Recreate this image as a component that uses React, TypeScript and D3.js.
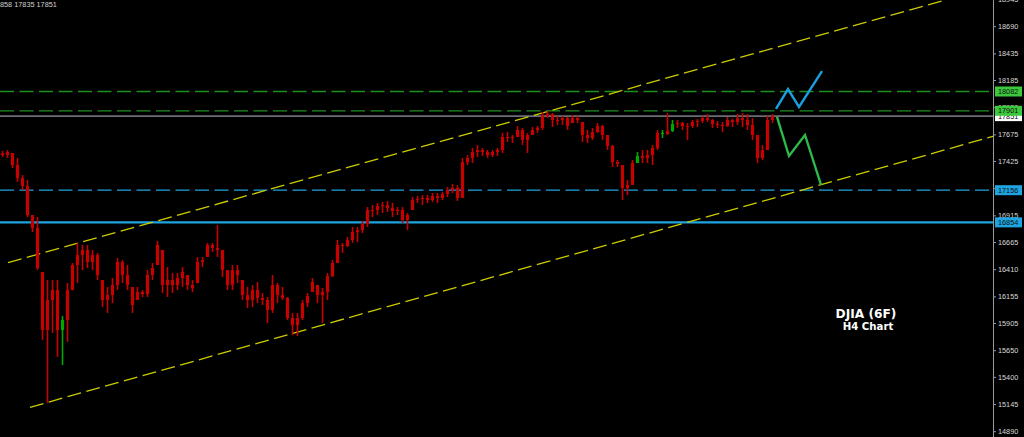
import React from "react";
import * as d3 from "d3";

// ---- price axis ticks ----
const tickValues = [18945, 18690, 18435, 18185, 17930, 17675, 17425, 17170, 16915, 16665, 16410, 16155, 15905, 15650, 15400, 15145, 14890];

// ---- H4 bars (high / low / close), open = previous close ----
const firstOpen = 17500;
const highs = [
  17524, 17533, 17505, 17458, 17298, 17251, 16923, 16904, 16388, 16313,
  16313, 16313, 15975, 16285, 16473, 16661, 16642, 16642, 16595, 16567,
  16313, 16248, 16332, 16520, 16501, 16454, 16248, 16248, 16219, 16407,
  16473, 16679, 16595, 16435, 16379, 16379, 16435, 16360, 16313, 16529,
  16529, 16661, 16661, 16829, 16595, 16407, 16454, 16454, 16313, 16248,
  16266, 16295, 16191, 16154, 16360, 16285, 16248, 16154, 16004, 16004,
  16126, 16191, 16332, 16266, 16238, 16379, 16501, 16689, 16661, 16717,
  16811, 16811, 16867, 16998, 17017, 17036, 17045, 17055, 17036, 16998,
  16998, 16942, 17092, 17102, 17111, 17111, 17130, 17130, 17139, 17186,
  17214, 17205, 17458, 17486, 17552, 17580, 17552, 17533, 17533, 17552,
  17693, 17702, 17674, 17758, 17740, 17693, 17749, 17758, 17890, 17899,
  17880, 17852, 17852, 17843, 17861, 17852, 17796, 17721, 17740, 17786,
  17768, 17674, 17580, 17439, 17392, 17251, 17439, 17514, 17533, 17533,
  17580, 17721, 17721, 17880, 17815, 17815, 17796, 17786, 17815, 17824,
  17852, 17871, 17824, 17805, 17796, 17843, 17824, 17871, 17880, 17871,
  17833, 17674, 17580, 17852, 17871,
];
const lows = [
  17467, 17458, 17364, 17233, 17158, 16904, 16764, 16407, 15750, 15159,
  15816, 15591, 15516, 15732, 16219, 16285, 16407, 16426, 16407, 16313,
  16060, 16004, 16097, 16219, 16285, 16219, 16004, 16126, 16154, 16154,
  16313, 16454, 16191, 16154, 16191, 16219, 16248, 16219, 16201, 16285,
  16435, 16529, 16576, 16529, 16341, 16219, 16219, 16285, 16126, 16050,
  16060, 16097, 16079, 15910, 16004, 16097, 16126, 15938, 15797, 15788,
  15938, 16060, 16201, 16097, 15910, 16126, 16341, 16473, 16567, 16623,
  16661, 16670, 16754, 16811, 16904, 16923, 16942, 16951, 16904, 16923,
  16848, 16782, 16970, 17036, 17017, 17036, 17045, 17036, 17064, 17092,
  17130, 17055, 17083, 17392, 17411, 17467, 17477, 17458, 17467, 17477,
  17505, 17608, 17599, 17655, 17580, 17505, 17674, 17693, 17721, 17833,
  17749, 17768, 17768, 17721, 17786, 17786, 17608, 17599, 17627, 17693,
  17627, 17533, 17374, 17374, 17064, 17111, 17205, 17411, 17411, 17411,
  17392, 17533, 17646, 17674, 17702, 17740, 17721, 17627, 17740, 17749,
  17786, 17796, 17740, 17740, 17702, 17749, 17749, 17768, 17749, 17721,
  17627, 17411, 17439, 17533, 17786,
];
const closes = [
  17486, 17514, 17392, 17270, 17195, 16923, 16801, 16426, 15844, 16126,
  16219, 15844, 15938, 16219, 16454, 16548, 16595, 16482, 16548, 16360,
  16126, 16172, 16266, 16482, 16360, 16266, 16079, 16201, 16182, 16360,
  16426, 16642, 16266, 16313, 16266, 16332, 16388, 16266, 16238, 16482,
  16501, 16642, 16614, 16595, 16407, 16266, 16407, 16360, 16172, 16126,
  16219, 16144, 16126, 16032, 16266, 16172, 16144, 15957, 15891, 15957,
  16097, 16163, 16295, 16172, 16201, 16351, 16473, 16642, 16632, 16689,
  16764, 16782, 16839, 16970, 16970, 17008, 17017, 16989, 16961, 16970,
  16876, 16923, 17064, 17073, 17083, 17064, 17102, 17083, 17120, 17158,
  17177, 17083, 17420, 17458, 17514, 17533, 17514, 17486, 17514, 17533,
  17655, 17655, 17646, 17721, 17627, 17674, 17721, 17740, 17852, 17871,
  17815, 17815, 17833, 17758, 17833, 17815, 17674, 17646, 17702, 17758,
  17674, 17571, 17420, 17402, 17177, 17205, 17411, 17477, 17458, 17486,
  17552, 17693, 17683, 17711, 17777, 17786, 17758, 17758, 17796, 17805,
  17833, 17815, 17777, 17768, 17758, 17815, 17796, 17833, 17815, 17768,
  17674, 17458, 17533, 17815, 17851,
];
const greenBars = [12, 127, 132, 134];

// ---- horizontal levels ----
const greenLevels = [18082, 17901];
const cyanDashLevel = 17156;
const cyanSolidLevel = 16854;
const lastPrice = 17851;

// ---- channel lines (bar index, price) ----
const upperChannel = [[1.1, 16476], [188.5, 18940]];
const lowerChannel = [[5.5, 15119], [197.1, 17648]];

// ---- forecast paths (bar index, price) ----
const bullPath = [[154.7, 17918], [157.1, 18105], [159.3, 17937], [163.9, 18274]];
const bearPath = [[154.9, 17843], [157.3, 17477], [160.5, 17674], [163.7, 17205]];

const topText = "858 17835 17851";
const title = "DJIA (6F)";
const subtitle = "H4 Chart";

const W = 1024;
const H = 437;
const plotRight = 993;

export default function App() {
  const n = closes.length;
  const x = d3.scaleLinear().domain([-0.5, n - 0.5]).range([0, 775]);
  const y = d3.scaleLinear().domain([18690, 14890]).range([26.7, 431.7]);

  const red = "#c80000";
  const grn = "#00a800";
  const yellow = "#cccc00";
  const cyan = "#1ea4e0";
  const dgreen = "#1f8f1f";
  const font = "'Liberation Sans', Arial, sans-serif";

  const ray = (pts: number[][]) => {
    const [a, b] = pts;
    const slope = (b[1] - a[1]) / (b[0] - a[0]);
    const xEnd = x.invert(plotRight);
    const pEnd = a[1] + slope * (xEnd - a[0]);
    return { x1: x(a[0]), y1: y(a[1]), x2: plotRight, y2: y(pEnd) };
  };
  const up = ray(upperChannel);
  const lo = ray(lowerChannel);

  const line = d3
    .line<number[]>()
    .x((d) => x(d[0]))
    .y((d) => y(d[1]));

  const bodyW = 3.2;

  return (
    <svg
      width={W}
      height={H}
      style={{ position: "absolute", left: 0, top: 0, background: "#000" }}
    >
      <rect x={0} y={0} width={W} height={H} fill="#000" />
      <defs>
        <clipPath id="plot">
          <rect x={0} y={0} width={plotRight} height={H} />
        </clipPath>
      </defs>

      <g clipPath="url(#plot)">
        {/* horizontal levels */}
        {greenLevels.map((v) => (
          <line key={v} x1={0} x2={plotRight} y1={y(v)} y2={y(v)} stroke={dgreen} strokeWidth={1.3} strokeDasharray="14 5.5" />
        ))}
        <line x1={0} x2={plotRight} y1={y(cyanDashLevel)} y2={y(cyanDashLevel)} stroke={cyan} strokeWidth={1.2} strokeDasharray="14 5.5" />
        <line x1={0} x2={plotRight} y1={y(cyanSolidLevel)} y2={y(cyanSolidLevel)} stroke={cyan} strokeWidth={2.2} />
        <line x1={0} x2={plotRight} y1={y(lastPrice)} y2={y(lastPrice)} stroke="#6c6c74" strokeWidth={1.8} />

        {/* channel */}
        <line {...up} stroke={yellow} strokeWidth={1.3} strokeDasharray="14 5.5" />
        <line {...lo} stroke={yellow} strokeWidth={1.3} strokeDasharray="14 5.5" />

        {/* candles */}
        {closes.map((c, i) => {
          const o = i === 0 ? firstOpen : closes[i - 1];
          const hi = highs[i];
          const lw = lows[i];
          const top = Math.min(Math.max(o, c), hi);
          const bot = Math.max(Math.min(o, c), lw);
          const col = greenBars.includes(i) ? grn : red;
          const cx = x(i);
          const yt = y(top);
          const yb = y(bot);
          return (
            <g key={i}>
              <line x1={cx} x2={cx} y1={y(hi)} y2={y(lw)} stroke={col} strokeWidth={1.6} />
              <rect x={cx - bodyW / 2} y={yt} width={bodyW} height={Math.max(1, yb - yt)} fill={col} />
            </g>
          );
        })}

        {/* forecast */}
        <path d={line(bullPath) || ""} fill="none" stroke="#1a9ee0" strokeWidth={2.4} />
        <path d={line(bearPath) || ""} fill="none" stroke="#2db84a" strokeWidth={2.4} />
      </g>

      {/* right axis */}
      <line x1={plotRight + 0.5} x2={plotRight + 0.5} y1={0} y2={H} stroke="#9a9a9a" strokeWidth={1} />
      {tickValues.map((v) => (
        <g key={v}>
          <line x1={plotRight} x2={plotRight + 3} y1={y(v)} y2={y(v)} stroke="#9a9a9a" />
          <text x={998} y={y(v)} dy="0.35em" fontSize={7.3} fontFamily={font} fill="#d8d8d8">
            {v}
          </text>
        </g>
      ))}

      {/* price boxes */}
      {[
        { v: lastPrice, bg: "#ffffff" },
        { v: greenLevels[0], bg: "#3cc83c" },
        { v: greenLevels[1], bg: "#3cc83c" },
        { v: cyanDashLevel, bg: cyan },
        { v: cyanSolidLevel, bg: cyan },
      ].map((b) => (
        <g key={b.v}>
          <rect x={995} y={y(b.v) - 5} width={27} height={10} fill={b.bg} />
          <text x={998} y={y(b.v)} dy="0.35em" fontSize={7.3} fontFamily={font} fill="#101010">
            {b.v}
          </text>
        </g>
      ))}

      {/* texts */}
      <text x={0} y={6.8} fontSize={7.3} fontFamily={font} fill="#d0d0d0">
        {topText}
      </text>
      <text x={866} y={317.5} textAnchor="middle" fontSize={12.2} fontWeight="bold" fontFamily="'DejaVu Sans', sans-serif" fill="#ffffff">
        {title}
      </text>
      <text x={868} y={329.8} textAnchor="middle" fontSize={10.2} fontWeight="bold" fontFamily="'DejaVu Sans', sans-serif" fill="#ffffff">
        {subtitle}
      </text>
    </svg>
  );
}
